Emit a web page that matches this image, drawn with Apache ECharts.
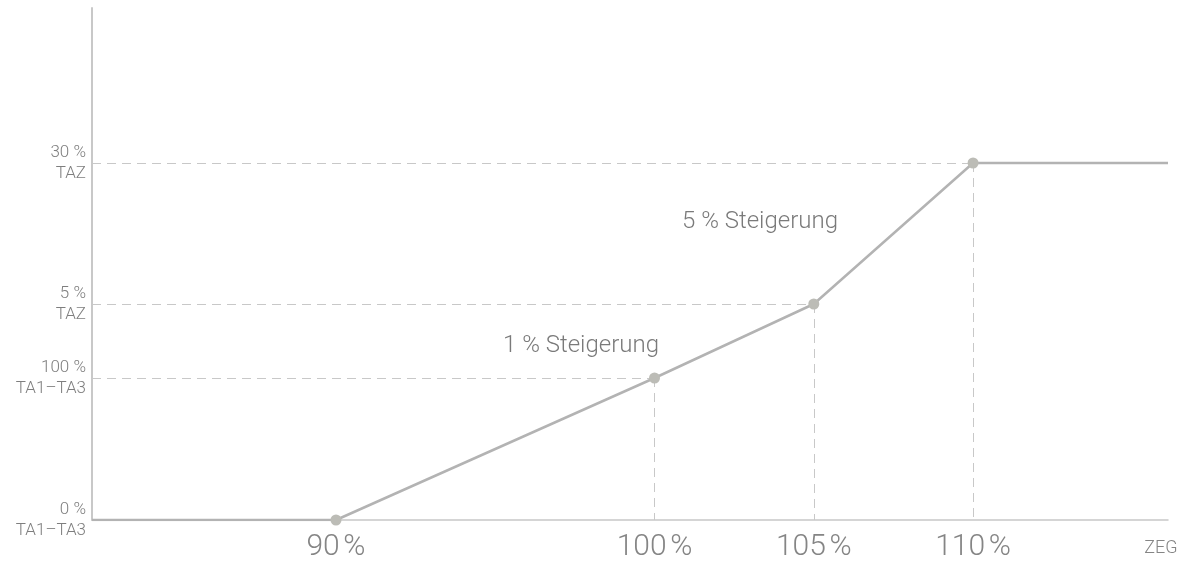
<!DOCTYPE html>
<html>
<head>
<meta charset="utf-8">
<script src="https://cdn.jsdelivr.net/npm/echarts@6/dist/echarts.min.js"></script>
<style>
  html, body { margin: 0; padding: 0; background: #fff; }
  #chart { width: 1182px; height: 561px; }
</style>
</head>
<body>
<div id="chart"></div>
<script>
// x = ZEG in %, y = level (drawn height units)
const xMin = 82.34;
const xMax = 116.12;
const yMax = 512;
const xTicks = [90, 100, 105, 110];
const levelValues = [0, 142, 216, 357];
const levelLabels = ['0 %\nTA1–TA3', '100 %\nTA1–TA3', '5 %\nTAZ', '30 %\nTAZ'];
const curveX = [xMin, 90, 100, 105, 110, xMax];
const curveY = [0, 0, 142, 216, 357, 357];
// which points get a dot
const dotted = [false, true, true, true, true, false];

const grey = '#858585';
const font = 'Roboto';

const chart = echarts.init(document.getElementById('chart'));

const lineData = curveX.map((x, i) => ({
  value: [x, curveY[i]],
  symbolSize: dotted[i] ? 11 : 0
}));

// dashed guides: from y axis to point, and from point down to x axis
const guides = [];
curveX.forEach((x, i) => {
  if (!dotted[i] || curveY[i] === 0) return;
  guides.push([{ coord: [xMin, curveY[i]] }, { coord: [x, curveY[i]] }]);
  guides.push([{ coord: [x, curveY[i]] }, { coord: [x, 0] }]);
});

const option = {
  animation: false,
  grid: { left: 92, right: 14, top: 8, bottom: 41, outerBoundsMode: 'none' },
  xAxis: {
    type: 'value',
    min: xMin,
    max: xMax,
    splitLine: { show: false },
    axisLine: { lineStyle: { color: '#c8c8c8', width: 1.5 } },
    axisTick: { show: false },
    axisLabel: {
      customValues: xTicks,
      formatter: v => v + '\u202f%',
      fontFamily: font,
      fontWeight: 300,
      fontSize: 30,
      color: grey,
      margin: 12
    }
  },
  yAxis: {
    type: 'value',
    min: 0,
    max: yMax,
    splitLine: { show: false },
    axisLine: { show: true, lineStyle: { color: '#c8c8c8', width: 2 } },
    axisTick: { show: false },
    axisLabel: {
      customValues: levelValues,
      formatter: v => levelLabels[levelValues.indexOf(v)],
      fontFamily: font,
      fontWeight: 300,
      fontSize: 17,
      lineHeight: 21,
      color: '#7e7e7e',
      align: 'right',
      margin: 6
    }
  },
  graphic: [
    { type: 'text', x: 760, y: 222, style: { text: '5 % Steigerung', fontFamily: font, fontWeight: 300, fontSize: 24, fill: '#7a7a7a', align: 'center', verticalAlign: 'middle' } },
    { type: 'text', x: 581, y: 346, style: { text: '1 % Steigerung', fontFamily: font, fontWeight: 300, fontSize: 24, fill: '#7a7a7a', align: 'center', verticalAlign: 'middle' } },
    { type: 'text', x: 1161, y: 548, style: { text: 'ZEG', fontFamily: font, fontWeight: 300, fontSize: 18, fill: grey, align: 'center', verticalAlign: 'middle' } }
  ],
  series: [{
    type: 'line',
    data: lineData,
    symbol: 'circle',
    itemStyle: { color: '#bcbcb6' },
    lineStyle: { color: '#b3b3b3', width: 2.5 },
    z: 3,
    markLine: {
      silent: true,
      symbol: 'none',
      label: { show: false },
      lineStyle: { color: '#c8c8c8', width: 1, type: [9, 6] },
      data: guides,
      z: 1
    }
  }]
};

chart.setOption(option);
</script>
</body>
</html>
